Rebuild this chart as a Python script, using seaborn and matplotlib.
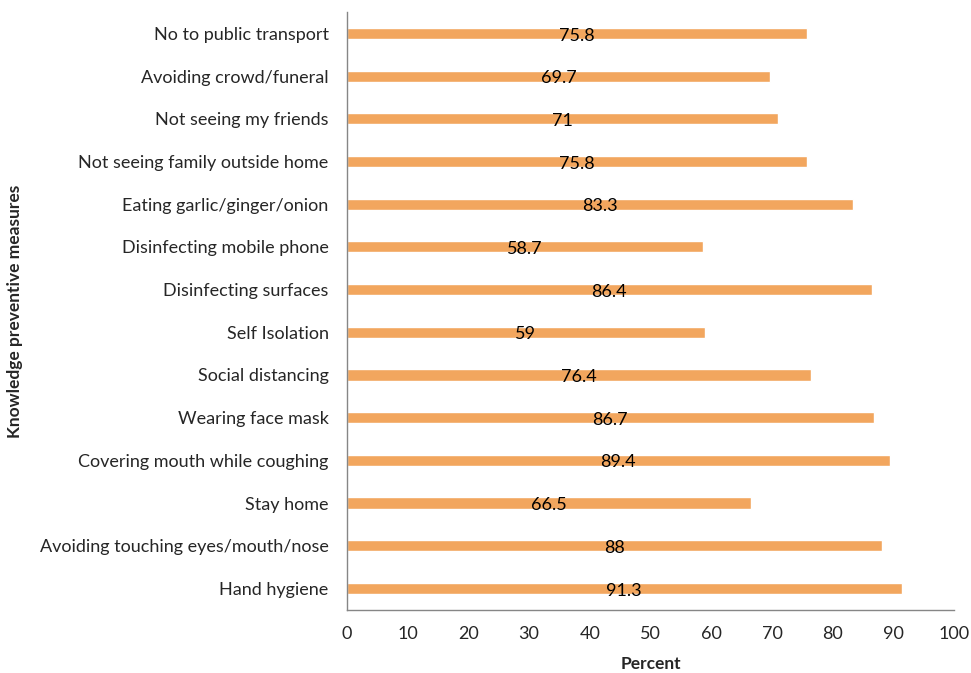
import numpy as np
import pandas as pd
import matplotlib.pyplot as plt
import seaborn as sns

measures = ['No to public transport', 'Avoiding crowd/funeral', 'Not seeing my friends',
            'Not seeing family outside home', 'Eating garlic/ginger/onion',
            'Disinfecting mobile phone', 'Disinfecting surfaces', 'Self Isolation',
            'Social distancing', 'Wearing face mask', 'Covering mouth while coughing',
            'Stay home', 'Avoiding touching eyes/mouth/nose', 'Hand hygiene']
percent = [75.8, 69.7, 71, 75.8, 83.3, 58.7, 86.4, 59, 76.4, 86.7, 89.4, 66.5, 88, 91.3]
value_labels = ['75.8', '69.7', '71', '75.8', '83.3', '58.7', '86.4', '59', '76.4',
                '86.7', '89.4', '66.5', '88', '91.3']

df = pd.DataFrame({'Measure': measures, 'Percent': percent})

sns.set_style("white")
plt.rcParams['font.family'] = ['Lato', 'DejaVu Sans']

fig = plt.figure(figsize=(9.71, 6.73), dpi=100)
ax = fig.add_axes([0.357, 0.094, 0.626, 0.888])

sns.barplot(data=df, x='Percent', y='Measure', color='#F2A65E', width=0.26,
            saturation=1, ax=ax)

for i, (v, lab) in enumerate(zip(percent, value_labels)):
    ax.text(v / 2, i + 0.05, lab, ha='center', va='center', fontsize=13, color='black')

ax.set_xlim(0, 100)
ax.set_ylim(13.5, -0.5)
ax.set_xticks(np.arange(0, 101, 10))
ax.tick_params(axis='x', direction='out', length=5, color='#868686', labelsize=13, pad=7)
ax.tick_params(axis='y', length=0, labelsize=13, pad=13)
for s in ['top', 'right']:
    ax.spines[s].set_visible(False)
for s in ['left', 'bottom']:
    ax.spines[s].set_color('#868686')
    ax.spines[s].set_linewidth(1)

ax.set_xlabel('Percent', fontsize=12.5, fontweight='bold', labelpad=10)
ax.set_ylabel('Knowledge preventive measures', fontsize=12.5, fontweight='bold', labelpad=12)

fig.savefig('out.png', dpi=100)
